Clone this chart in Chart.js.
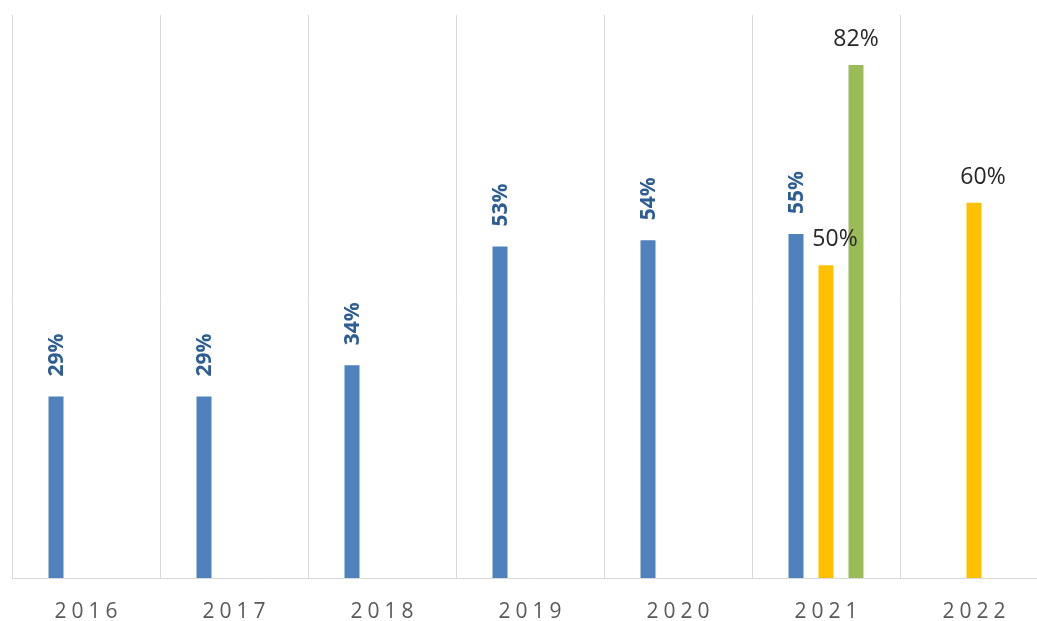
<!DOCTYPE html>
<html>
<head>
<meta charset="utf-8">
<script src="https://cdn.jsdelivr.net/npm/chart.js@4"></script>
<style>
  html, body { margin: 0; padding: 0; background: #fff; overflow: hidden; }
  #wrap { width: 1060px; height: 621px; }
</style>
</head>
<body>
<div id="wrap"><canvas id="myChart" width="1060" height="621"></canvas></div>
<script>
const years = ["2016", "2017", "2018", "2019", "2020", "2021", "2022"];
const blueValues = [29, 29, 34, 53, 54, 55, null];
const yellowValues = [null, null, null, null, null, 50, 60];
const greenValues = [null, null, null, null, null, 82, null];

const labelPlugin = {
  id: "barLabels",
  afterDatasetsDraw(chart) {
    const ctx = chart.ctx;
    chart.data.datasets.forEach((ds, i) => {
      const meta = chart.getDatasetMeta(i);
      meta.data.forEach((bar, j) => {
        const v = ds.data[j];
        if (v == null) return;
        ctx.save();
        if (i === 0) {
          ctx.translate(bar.x, bar.y - 20);
          ctx.rotate(-Math.PI / 2);
          ctx.font = "bold 21px 'Open Sans', sans-serif";
          ctx.fillStyle = "#2E5D93";
          ctx.textAlign = "left";
          ctx.textBaseline = "middle";
          ctx.fillText(v + "%", 0, 1);
        } else {
          ctx.font = "23px 'Open Sans', sans-serif";
          ctx.fillStyle = "#262626";
          ctx.textAlign = "center";
          ctx.textBaseline = "alphabetic";
          const dx = i === 1 ? 9 : 0;
          ctx.fillText(v + "%", bar.x + dx, bar.y - 19);
        }
        ctx.restore();
      });
    });

    // category labels, spaced out
    const xs = chart.scales.x;
    ctx.save();
    ctx.font = "21px 'Open Sans', sans-serif";
    ctx.fillStyle = "#595959";
    ctx.textAlign = "center";
    ctx.textBaseline = "alphabetic";
    ctx.letterSpacing = "5px";
    years.forEach((y, j) => {
      ctx.fillText(y, xs.getPixelForValue(j) + 2.5, 618);
    });
    ctx.restore();
  },
};

new Chart(document.getElementById("myChart").getContext("2d"), {
  type: "bar",
  data: {
    labels: years,
    datasets: [
      { data: blueValues, backgroundColor: "#4F81BD" },
      { data: yellowValues, backgroundColor: "#FFC000" },
      { data: greenValues, backgroundColor: "#9BBB59" },
    ],
  },
  options: {
    responsive: false,
    animation: false,
    layout: { padding: { left: 12, right: 12, top: 15, bottom: 43 } },
    datasets: { bar: { categoryPercentage: 0.608, barPercentage: 0.5 } },
    plugins: { legend: { display: false }, tooltip: { enabled: false } },
    scales: {
      x: {
        ticks: { display: false },
        grid: { color: "#d9d9d9", drawTicks: false, lineWidth: 1 },
        border: { color: "#d9d9d9" },
      },
      y: { display: false, min: 0, max: 90 },
    },
  },
  plugins: [labelPlugin],
});
</script>
</body>
</html>
